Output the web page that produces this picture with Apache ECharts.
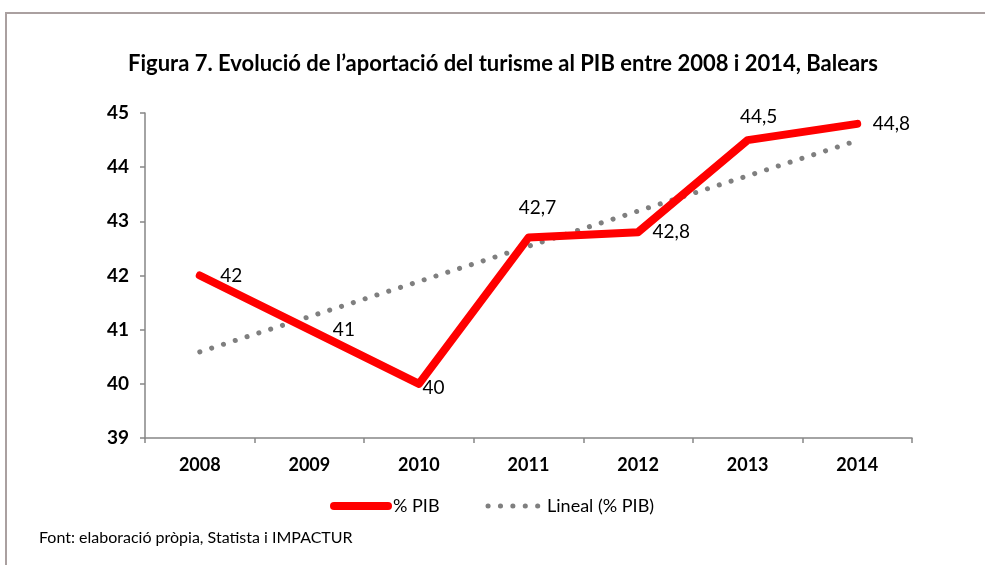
<!DOCTYPE html>
<html>
<head>
<meta charset="utf-8">
<script src="https://cdn.jsdelivr.net/npm/echarts@6/dist/echarts.min.js"></script>
<style>
html,body{margin:0;padding:0;background:#fff;}
#chart{width:985px;height:565px;}
</style>
</head>
<body>
<div id="chart"></div>
<script>
const years = ['2008','2009','2010','2011','2012','2013','2014'];
const pib = [42, 41, 40, 42.7, 42.8, 44.5, 44.8];
const lineal = [40.59, 41.24, 41.89, 42.54, 43.19, 43.84, 44.49];
const yTicks = [39, 40, 41, 42, 43, 44, 45];
const titleText = 'Figura 7. Evolució de l\u2019aportació del turisme al PIB entre 2008 i 2014, Balears';
const sourceText = 'Font: elaboració pròpia, Statista i IMPACTUR';
const seriesNames = ['% PIB', 'Lineal (% PIB)'];

const FONT = 'Lato';
// label placement per point (style only)
const labelPlacement = [
  {position: 'right', distance: 20},
  {position: 'right', distance: 23},
  {position: 'right', distance: 3, offset: [0, 4]},
  {position: 'top', distance: 20, offset: [9, 0]},
  {position: 'right', distance: 14},
  {position: 'top', distance: 13, offset: [11, 0]},
  {position: 'right', distance: 15}
];

const chart = echarts.init(document.getElementById('chart'), null, {renderer: 'canvas'});
chart.setOption({
  animation: false,
  backgroundColor: '#fff',
  textStyle: {fontFamily: FONT},
  grid: {left: 145, right: 73, top: 113, bottom: 127, containLabel: false},
  graphic: [
    {type: 'rect', shape: {x: 6, y: 13, width: 1100, height: 700}, style: {fill: 'none', stroke: '#aaa0a0', lineWidth: 2}, silent: true},
    {type: 'text', style: {x: 503, y: 64, text: titleText, font: 'bold 22px ' + FONT, fill: '#000', align: 'center', verticalAlign: 'middle'}},
    {type: 'text', style: {x: 39, y: 538, text: sourceText, font: '16px ' + FONT, fill: '#000', align: 'left', verticalAlign: 'middle'}}
  ],
  legend: {
    left: 325, top: 492,
    itemWidth: 54, itemHeight: 16, itemGap: 46,
    textStyle: {fontFamily: FONT, fontSize: 18, color: '#000'},
    data: [
      {name: seriesNames[0], itemStyle: {opacity: 0}, lineStyle: {width: 8, cap: 'round'}},
      {name: seriesNames[1], itemStyle: {opacity: 0}, lineStyle: {width: 5, cap: 'round', type: [0.1, 12.3]}}
    ]
  },
  xAxis: {
    type: 'category', data: years, boundaryGap: true,
    axisLine: {lineStyle: {color: '#868686', width: 1.5}},
    axisTick: {show: true, length: 5, lineStyle: {color: '#868686', width: 1.5}},
    axisLabel: {fontFamily: FONT, fontWeight: 'bold', fontSize: 18, color: '#000', margin: 18}
  },
  yAxis: {
    type: 'value', min: yTicks[0], max: yTicks[yTicks.length - 1], interval: 1,
    axisLine: {show: true, lineStyle: {color: '#868686', width: 1.5}},
    axisTick: {show: true, length: 5, lineStyle: {color: '#868686', width: 1.5}},
    splitLine: {show: false},
    axisLabel: {fontFamily: FONT, fontWeight: 'bold', fontSize: 19, color: '#000', margin: 16}
  },
  series: [
    {
      name: seriesNames[0], type: 'line', data: pib.map((v, i) => ({value: v, label: labelPlacement[i]})),
      symbol: 'circle', symbolSize: 1, showSymbol: true,
      itemStyle: {color: '#ff0000'},
      lineStyle: {color: '#ff0000', width: 8, cap: 'round', join: 'round'},
      label: {show: true, fontFamily: FONT, fontSize: 19, color: '#000',
        formatter: p => String(p.value).replace('.', ',')},
      z: 3
    },
    {
      name: seriesNames[1], type: 'line', data: lineal,
      symbol: 'none',
      itemStyle: {color: '#7f7f7f'},
      lineStyle: {color: '#7f7f7f', width: 5, type: [0.1, 12.3], cap: 'round'},
      z: 2
    }
  ]
});
</script>
</body>
</html>
